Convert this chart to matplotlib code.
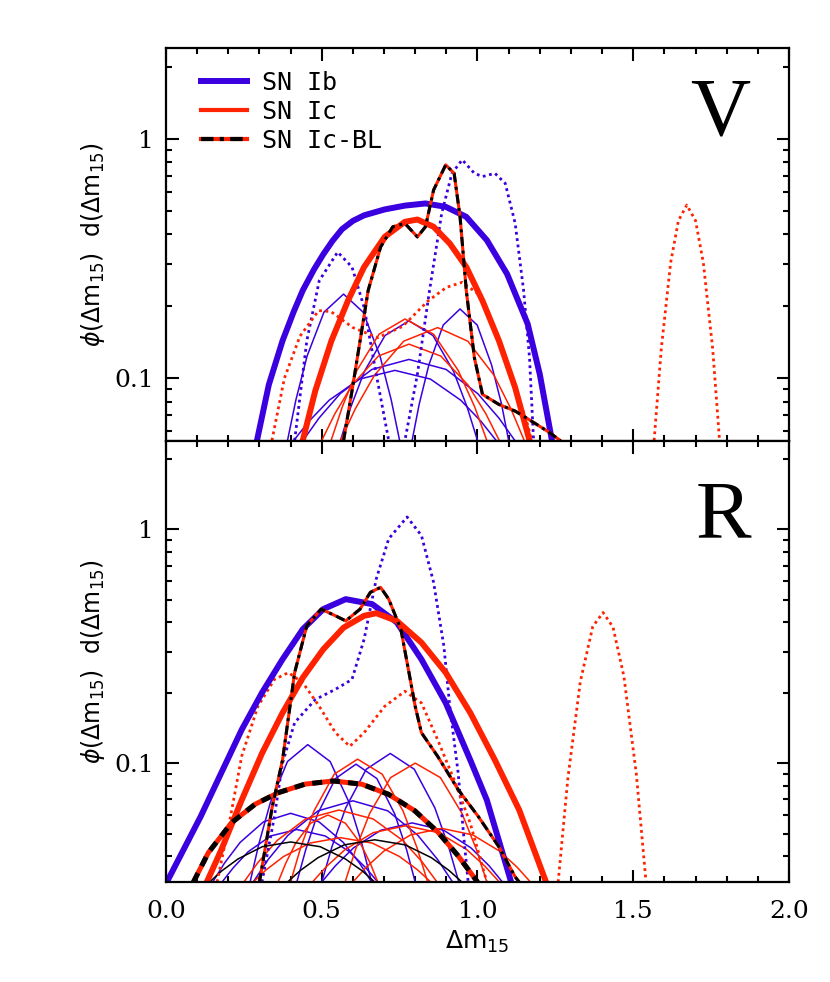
import matplotlib
matplotlib.use('Agg')
import matplotlib.pyplot as plt
from matplotlib import ticker

plt.rcParams['font.family'] = 'DejaVu Serif'
plt.rcParams['mathtext.fontset'] = 'dejavusans'

BLUE = '#3a00e0'
RED = '#ff2200'

# ---------------- V band ----------------
# summed distributions
v_ib_x = [0.292, 0.33, 0.374, 0.41, 0.439, 0.475, 0.505, 0.535, 0.565, 0.60, 0.636, 0.702, 0.767, 0.833, 0.898, 0.964, 1.030, 1.095, 1.161, 1.200, 1.239]
v_ib_y = [0.055, 0.094, 0.1435, 0.19, 0.233, 0.285, 0.33, 0.376, 0.42, 0.455, 0.48, 0.508, 0.527, 0.538, 0.521, 0.473, 0.378, 0.273, 0.169, 0.104, 0.055]
v_ic_x = [0.439, 0.479, 0.531, 0.584, 0.636, 0.702, 0.767, 0.807, 0.859, 0.911, 0.964, 1.016, 1.069, 1.121, 1.167]
v_ic_y = [0.055, 0.0885, 0.1435, 0.211, 0.292, 0.39, 0.451, 0.461, 0.43, 0.366, 0.292, 0.211, 0.1435, 0.0914, 0.055]
v_bl_x = [0.57, 0.597, 0.623, 0.649, 0.689, 0.728, 0.767, 0.807, 0.833, 0.859, 0.898, 0.925, 0.944, 0.964, 0.990, 1.016, 1.069, 1.121, 1.174, 1.226, 1.266]
v_bl_y = [0.055, 0.0885, 0.1435, 0.233, 0.354, 0.43, 0.444, 0.39, 0.43, 0.612, 0.78, 0.719, 0.473, 0.233, 0.122, 0.0857, 0.0778, 0.073, 0.0662, 0.060, 0.055]
# dotted
v_ibdot_x = [0.413, 0.452, 0.492, 0.551, 0.597, 0.636, 0.675, 0.715, 0.741, 0.767, 0.807, 0.846, 0.885, 0.918, 0.951, 0.990, 1.016, 1.056, 1.089, 1.121, 1.148, 1.167, 1.180]
v_ibdot_y = [0.055, 0.1435, 0.256, 0.337, 0.292, 0.198, 0.104, 0.055, 0.03, 0.055, 0.104, 0.233, 0.489, 0.719, 0.819, 0.719, 0.697, 0.719, 0.653, 0.444, 0.233, 0.122, 0.055]
v_icdot_x = [0.34, 0.38, 0.43, 0.49, 0.53, 0.60, 0.68, 0.76, 0.84, 0.90, 0.951, 1.003, 1.056, 1.108, 1.161, 1.174]
v_icdot_y = [0.055, 0.1, 0.15, 0.192, 0.19, 0.163, 0.148, 0.165, 0.21, 0.24, 0.252, 0.225, 0.158, 0.104, 0.064, 0.055]
v_icdot2_x = [1.567, 1.59, 1.62, 1.645, 1.672, 1.70, 1.725, 1.755, 1.777]
v_icdot2_y = [0.055, 0.133, 0.304, 0.456, 0.53, 0.456, 0.304, 0.133, 0.055]
# individual objects
vb1_x = [0.39, 0.417, 0.453, 0.507, 0.57, 0.633, 0.687, 0.723, 0.75]
vb1_y = [0.055, 0.0813, 0.124, 0.189, 0.225, 0.189, 0.124, 0.0813, 0.055]
vb2_x = [0.56, 0.593, 0.637, 0.703, 0.78, 0.857, 0.923, 0.967, 1.0]
vb2_y = [0.055, 0.0757, 0.107, 0.151, 0.174, 0.151, 0.107, 0.0757, 0.055]
vb3_x = [0.79, 0.813, 0.844, 0.890, 0.944, 0.999, 1.045, 1.077, 1.10]
vb3_y = [0.055, 0.0782, 0.114, 0.167, 0.195, 0.167, 0.114, 0.0782, 0.055]
vb4_x = [0.44, 0.491, 0.559, 0.661, 0.78, 0.899, 1.001, 1.069, 1.12]
vb4_y = [0.055, 0.0682, 0.0863, 0.109, 0.120, 0.109, 0.0863, 0.0682, 0.055]
vb5_x = [0.41, 0.459, 0.524, 0.621, 0.735, 0.849, 0.946, 1.011, 1.06]
vb5_y = [0.055, 0.0662, 0.0811, 0.0993, 0.108, 0.0993, 0.0811, 0.0662, 0.055]
vr1_x = [0.53, 0.566, 0.613, 0.684, 0.767, 0.859, 0.938, 0.991, 1.03]
vr1_y = [0.055, 0.076, 0.108, 0.153, 0.177, 0.153, 0.108, 0.076, 0.055]
vr2_x = [0.50, 0.542, 0.598, 0.682, 0.78, 0.882, 0.969, 1.027, 1.07]
vr2_y = [0.055, 0.0711, 0.094, 0.124, 0.139, 0.124, 0.094, 0.0711, 0.055]
vr3_x = [0.56, 0.607, 0.669, 0.763, 0.872, 0.969, 1.053, 1.108, 1.15]
vr3_y = [0.055, 0.0743, 0.103, 0.143, 0.163, 0.143, 0.103, 0.0743, 0.055]

# ---------------- R band ----------------
r_ib_x = [0.0, 0.111, 0.177, 0.243, 0.308, 0.374, 0.439, 0.505, 0.577, 0.662, 0.741, 0.82, 0.898, 0.977, 1.03, 1.108]
r_ib_y = [0.0305, 0.059, 0.0906, 0.139, 0.2, 0.278, 0.374, 0.456, 0.503, 0.479, 0.4, 0.278, 0.181, 0.103, 0.0695, 0.031]
r_ic_x = [0.131, 0.177, 0.243, 0.308, 0.374, 0.439, 0.505, 0.570, 0.636, 0.675, 0.741, 0.82, 0.898, 0.977, 1.056, 1.134, 1.22]
r_ic_y = [0.031, 0.0424, 0.0695, 0.110, 0.164, 0.232, 0.307, 0.380, 0.427, 0.438, 0.406, 0.328, 0.244, 0.164, 0.103, 0.063, 0.031]
r_bl_x = [0.30, 0.341, 0.374, 0.413, 0.452, 0.498, 0.544, 0.577, 0.623, 0.656, 0.689, 0.715, 0.754, 0.780, 0.80, 0.82, 0.872, 0.938, 1.003, 1.069, 1.121, 1.134]
r_bl_y = [0.031, 0.065, 0.103, 0.244, 0.387, 0.456, 0.427, 0.406, 0.456, 0.538, 0.565, 0.503, 0.374, 0.244, 0.175, 0.135, 0.107, 0.077, 0.059, 0.0438, 0.0326, 0.031]
r_bl2_x = [0.088, 0.136, 0.211, 0.286, 0.361, 0.446, 0.537, 0.628, 0.714, 0.799, 0.874, 0.938, 1.0]
r_bl2_y = [0.031, 0.0414, 0.0557, 0.0667, 0.0748, 0.0813, 0.0839, 0.0813, 0.0736, 0.0625, 0.0505, 0.0401, 0.031]
r_ibdot_x = [0.308, 0.348, 0.374, 0.413, 0.479, 0.544, 0.597, 0.636, 0.675, 0.715, 0.774, 0.82, 0.859, 0.892, 0.911, 0.938, 0.957, 0.970]
r_ibdot_y = [0.031, 0.059, 0.1, 0.149, 0.187, 0.207, 0.228, 0.339, 0.614, 0.912, 1.13, 0.942, 0.594, 0.317, 0.175, 0.0906, 0.0468, 0.031]
r_icdot_x = [0.164, 0.203, 0.243, 0.295, 0.348, 0.393, 0.439, 0.492, 0.544, 0.590, 0.636, 0.702, 0.767, 0.82, 0.872, 0.925, 0.977, 1.030]
r_icdot_y = [0.031, 0.0552, 0.107, 0.175, 0.228, 0.244, 0.221, 0.175, 0.135, 0.118, 0.135, 0.175, 0.203, 0.181, 0.126, 0.0848, 0.0552, 0.031]
r_icdot2_x = [1.259, 1.29, 1.33, 1.37, 1.403, 1.435, 1.47, 1.51, 1.541]
r_icdot2_y = [0.031, 0.0859, 0.223, 0.384, 0.441, 0.382, 0.235, 0.0895, 0.031]
rb1_x = [0.27, 0.298, 0.335, 0.390, 0.455, 0.527, 0.588, 0.629, 0.66]
rb1_y = [0.031, 0.0451, 0.0678, 0.1016, 0.12, 0.1016, 0.0678, 0.0451, 0.031]
rb2_x = [0.50, 0.533, 0.577, 0.643, 0.72, 0.797, 0.863, 0.907, 0.94]
rb2_y = [0.031, 0.044, 0.0644, 0.0942, 0.11, 0.0942, 0.0644, 0.044, 0.031]
rb3_x = [0.28, 0.328, 0.392, 0.488, 0.60, 0.712, 0.808, 0.872, 0.92]
rb3_y = [0.031, 0.0387, 0.0492, 0.0625, 0.069, 0.0625, 0.0492, 0.0387, 0.031]
rb4_x = [0.15, 0.188, 0.238, 0.313, 0.40, 0.491, 0.569, 0.621, 0.66]
rb4_y = [0.031, 0.0374, 0.0458, 0.0561, 0.061, 0.0561, 0.0458, 0.0374, 0.031]
rb5_x = [0.18, 0.216, 0.264, 0.336, 0.42, 0.511, 0.589, 0.641, 0.68]
rb5_y = [0.031, 0.0357, 0.0418, 0.0488, 0.052, 0.0488, 0.0418, 0.0357, 0.031]
rb6_x = [0.50, 0.544, 0.602, 0.689, 0.79, 0.892, 0.979, 1.037, 1.08]
rb6_y = [0.031, 0.0364, 0.0434, 0.0516, 0.0555, 0.0516, 0.0434, 0.0364, 0.031]
rb7_x = [0.42, 0.449, 0.487, 0.544, 0.61, 0.677, 0.734, 0.772, 0.80]
rb7_y = [0.031, 0.0428, 0.0607, 0.0859, 0.099, 0.0859, 0.0607, 0.0428, 0.031]
rr1_x = [0.40, 0.432, 0.475, 0.540, 0.615, 0.694, 0.761, 0.806, 0.84]
rr1_y = [0.031, 0.0434, 0.0624, 0.0897, 0.104, 0.0897, 0.0624, 0.0434, 0.031]
rr2_x = [0.575, 0.609, 0.654, 0.721, 0.80, 0.881, 0.950, 0.996, 1.03]
rr2_y = [0.031, 0.0429, 0.061, 0.0867, 0.100, 0.0867, 0.061, 0.0429, 0.031]
rr3_x = [0.25, 0.296, 0.357, 0.448, 0.555, 0.665, 0.760, 0.823, 0.87]
rr3_y = [0.031, 0.0377, 0.0467, 0.0577, 0.063, 0.0577, 0.0467, 0.0377, 0.031]
rr4_x = [0.47, 0.515, 0.575, 0.665, 0.77, 0.875, 0.965, 1.025, 1.07]
rr4_y = [0.031, 0.0361, 0.0427, 0.0504, 0.054, 0.0504, 0.0427, 0.0361, 0.031]
rr5_x = [0.60, 0.643, 0.700, 0.785, 0.885, 0.985, 1.070, 1.127, 1.17]
rr5_y = [0.031, 0.0359, 0.0421, 0.0493, 0.0526, 0.0493, 0.0421, 0.0359, 0.031]
rr6_x = [0.28, 0.322, 0.378, 0.462, 0.56, 0.662, 0.749, 0.807, 0.85]
rr6_y = [0.031, 0.035, 0.0399, 0.0455, 0.048, 0.0455, 0.0399, 0.035, 0.031]
rr7_x = [0.36, 0.384, 0.416, 0.464, 0.52, 0.576, 0.624, 0.656, 0.68]
rr7_y = [0.031, 0.0372, 0.0454, 0.0553, 0.06, 0.0553, 0.0454, 0.0372, 0.031]
rk1_x = [0.14, 0.179, 0.231, 0.309, 0.40, 0.495, 0.576, 0.63, 0.67]
rk1_y = [0.031, 0.0346, 0.0389, 0.0439, 0.046, 0.0439, 0.0389, 0.0346, 0.031]
rk2_x = [0.39, 0.432, 0.488, 0.572, 0.67, 0.768, 0.852, 0.908, 0.95]
rk2_y = [0.031, 0.0348, 0.0394, 0.0447, 0.047, 0.0447, 0.0394, 0.0348, 0.031]

DOT = (0, (1, 1.3))
BLDASH = (0, (3, 1.5, 1, 1.5))
BLDASH2 = (0, (2, 1.6))


def style_axis(ax, ylo):
    ax.set_yscale('log')
    ax.set_xlim(0, 2.0)
    ax.set_ylim(ylo, 2.4)
    ax.xaxis.set_major_locator(ticker.MultipleLocator(0.5))
    ax.xaxis.set_minor_locator(ticker.MultipleLocator(0.1))
    ax.xaxis.set_major_formatter(ticker.FormatStrFormatter('%.1f'))
    ax.yaxis.set_major_locator(ticker.LogLocator(base=10, numticks=10))
    ax.yaxis.set_minor_locator(ticker.LogLocator(base=10, subs=range(2, 10), numticks=10))
    ax.yaxis.set_major_formatter(ticker.FuncFormatter(lambda v, p: '%g' % v))
    ax.yaxis.set_minor_formatter(ticker.NullFormatter())
    ax.tick_params(which='both', direction='in', top=True, right=True, width=1.5, labelsize=18)
    ax.tick_params(which='major', length=9)
    ax.tick_params(which='minor', length=4.5)
    ax.tick_params(axis='y', which='major', pad=9)
    ax.tick_params(axis='x', which='major', pad=13)
    for s in ax.spines.values():
        s.set_linewidth(1.6)
    ax.set_ylabel(r'$\phi(\Delta\mathrm{m}_{15})\ \ \mathrm{d}(\Delta\mathrm{m}_{15})$', fontsize=17, labelpad=5)


def bl_line(ax, x, y, lw, ls):
    ax.plot(x, y, color=RED, lw=lw)
    ax.plot(x, y, color='black', lw=lw, ls=ls)


fig = plt.figure(figsize=(8.3, 9.82), dpi=100)
ax_v = fig.add_axes([0.2, 0.5514, 0.7506, 0.3997])
ax_r = fig.add_axes([0.2, 0.1018, 0.7506, 0.4496])
style_axis(ax_v, 0.055)
style_axis(ax_r, 0.031)
ax_v.tick_params(labelbottom=False)

# V panel
for x, y in [(vb1_x, vb1_y), (vb2_x, vb2_y), (vb3_x, vb3_y), (vb4_x, vb4_y), (vb5_x, vb5_y)]:
    ax_v.plot(x, y, color=BLUE, lw=1.1)
for x, y in [(vr1_x, vr1_y), (vr2_x, vr2_y), (vr3_x, vr3_y)]:
    ax_v.plot(x, y, color=RED, lw=1.1)
ax_v.plot(v_ibdot_x, v_ibdot_y, color=BLUE, lw=2, ls=DOT)
ax_v.plot(v_icdot_x, v_icdot_y, color=RED, lw=2, ls=DOT)
ax_v.plot(v_icdot2_x, v_icdot2_y, color=RED, lw=2, ls=DOT)
ax_v.plot(v_ib_x, v_ib_y, color=BLUE, lw=4.3)
ax_v.plot(v_ic_x, v_ic_y, color=RED, lw=4.3)
bl_line(ax_v, v_bl_x, v_bl_y, 2.2, BLDASH)

# R panel
for x, y in [(rb1_x, rb1_y), (rb2_x, rb2_y), (rb3_x, rb3_y), (rb4_x, rb4_y), (rb5_x, rb5_y), (rb6_x, rb6_y), (rb7_x, rb7_y)]:
    ax_r.plot(x, y, color=BLUE, lw=1.1)
for x, y in [(rr1_x, rr1_y), (rr2_x, rr2_y), (rr3_x, rr3_y), (rr4_x, rr4_y), (rr5_x, rr5_y), (rr6_x, rr6_y), (rr7_x, rr7_y)]:
    ax_r.plot(x, y, color=RED, lw=1.1)
for x, y in [(rk1_x, rk1_y), (rk2_x, rk2_y)]:
    ax_r.plot(x, y, color='black', lw=1.1)
ax_r.plot(r_ibdot_x, r_ibdot_y, color=BLUE, lw=2, ls=DOT)
ax_r.plot(r_icdot_x, r_icdot_y, color=RED, lw=2, ls=DOT)
ax_r.plot(r_icdot2_x, r_icdot2_y, color=RED, lw=2, ls=DOT)
ax_r.plot(r_ib_x, r_ib_y, color=BLUE, lw=4.3)
ax_r.plot(r_ic_x, r_ic_y, color=RED, lw=4.3)
bl_line(ax_r, r_bl2_x, r_bl2_y, 3.6, BLDASH2)
bl_line(ax_r, r_bl_x, r_bl_y, 2.2, BLDASH)
ax_r.set_xlabel(r'$\Delta\mathrm{m}_{15}$', fontsize=18)

ax_v.text(0.889, 0.829, 'V', transform=ax_v.transAxes, ha='center', va='center',
          fontsize=60, family='Liberation Serif')
ax_r.text(0.895, 0.825, 'R', transform=ax_r.transAxes, ha='center', va='center',
          fontsize=60, family='Liberation Serif')

# legend
h1, = ax_v.plot([], [], color=BLUE, lw=4.3)
h2, = ax_v.plot([], [], color=RED, lw=3)
h3a, = ax_v.plot([], [], color=RED, lw=3)
h3b, = ax_v.plot([], [], color='black', lw=3, ls=BLDASH)
ax_v.legend([h1, h2, (h3a, h3b)], ['SN Ib', 'SN Ic', 'SN Ic-BL'], loc='upper left',
            bbox_to_anchor=(0.02, 1.0), frameon=False, handlelength=1.85,
            handletextpad=0.6, labelspacing=0.2,
            prop={'family': 'DejaVu Sans Mono', 'size': 18})

fig.savefig('out.png', dpi=100)
